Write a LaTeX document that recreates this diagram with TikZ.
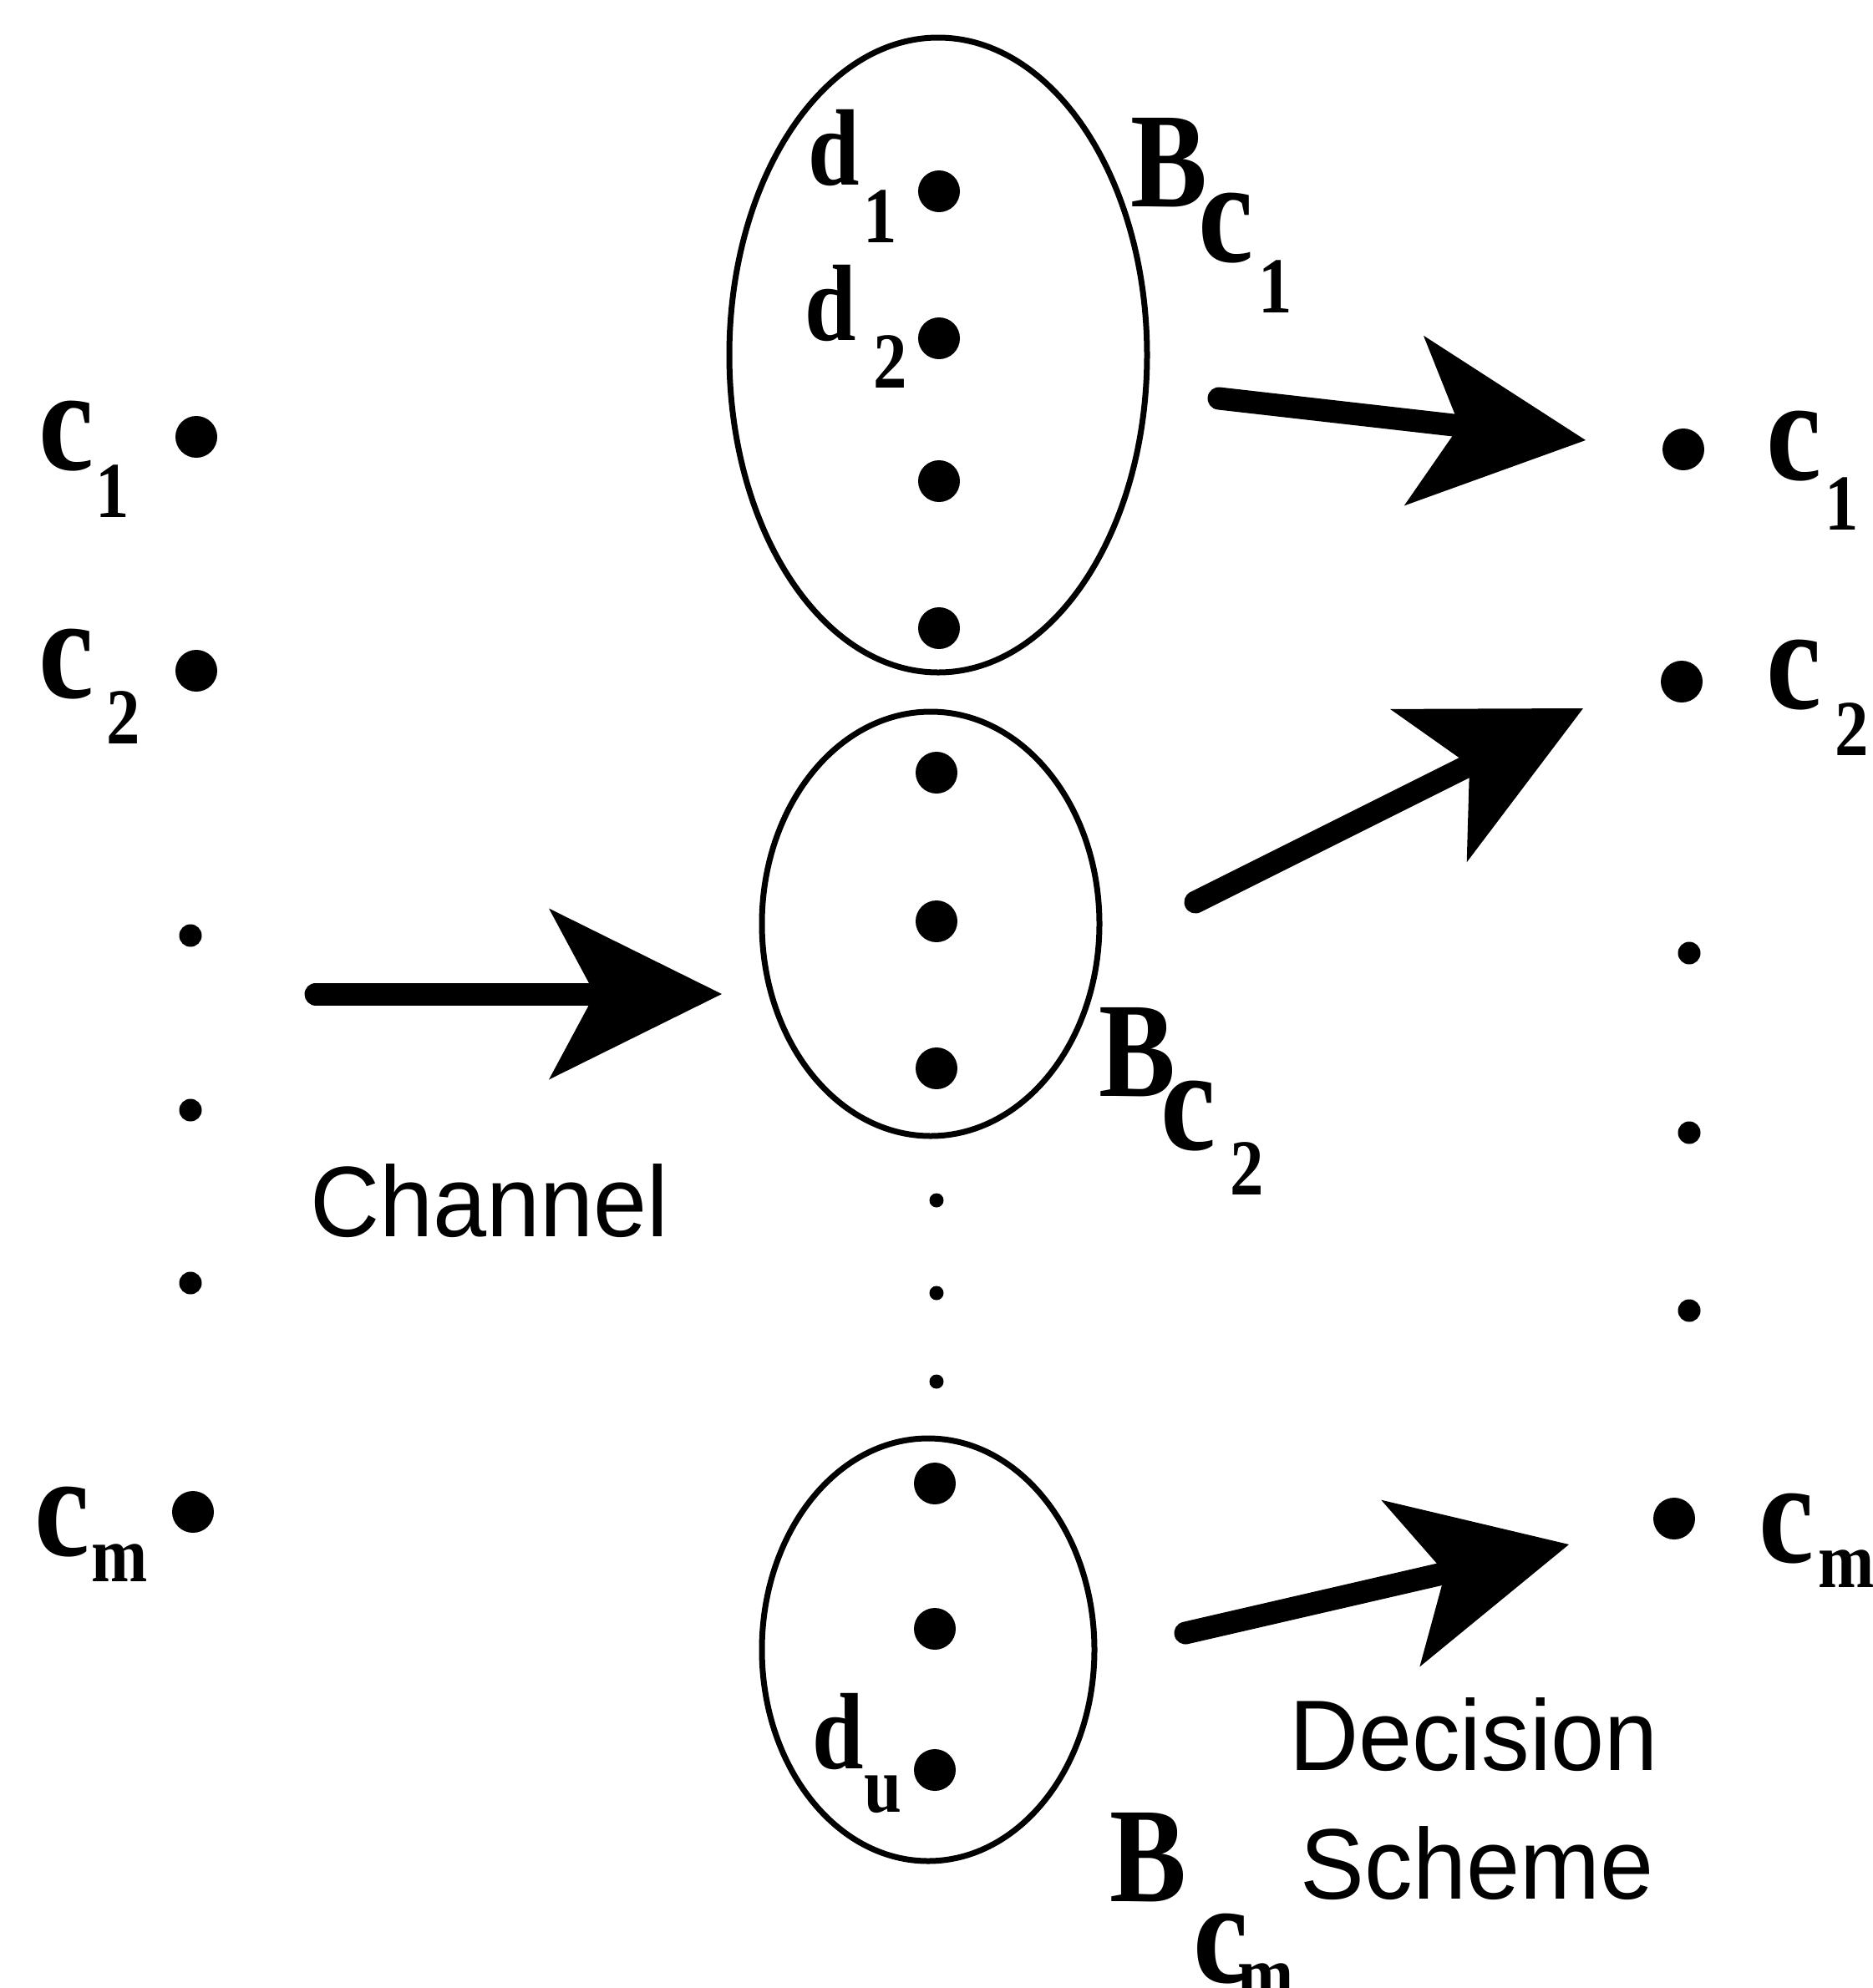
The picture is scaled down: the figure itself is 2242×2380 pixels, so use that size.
\documentclass[tikz,border=0pt]{standalone}
\usepackage{fontspec}
\setmainfont{Liberation Serif}
\newfontfamily\narrowserif[FakeStretch=0.85]{Liberation Serif}
\newfontfamily\narrowsans[FakeStretch=0.96]{Liberation Sans}
\usetikzlibrary{arrows.meta,shapes.geometric}
\begin{document}
\begin{tikzpicture}[x=1pt,y=-1pt,
  bigdot/.style={circle,fill=black,inner sep=0pt,minimum size=50pt},
  smalldot/.style={circle,fill=black,inner sep=0pt,minimum size=27pt},
  tinydot/.style={circle,fill=black,inner sep=0pt,minimum size=17pt},
  setshape/.style={draw=black,ellipse,line width=7pt,inner sep=0pt},
  biglet/.style={inner sep=0pt,anchor=base,font=\narrowserif\bfseries\fontsize{175}{175}\selectfont},
  dlet/.style={inner sep=0pt,anchor=base,font=\narrowserif\bfseries\fontsize{130}{130}\selectfont},
  Blet/.style={inner sep=0pt,anchor=base,font=\narrowserif\bfseries\fontsize{162}{162}\selectfont},
  sublet/.style={inner sep=0pt,anchor=base,font=\narrowserif\bfseries\fontsize{95}{95}\selectfont},
  caption/.style={inner sep=0pt,anchor=base,font=\narrowsans\fontsize{120}{120}\selectfont},
  bigarrow/.style={line width=27pt,line cap=round,
    -{Stealth[length=207pt,width=205pt,inset=55pt,line width=0pt]}}
]
\useasboundingbox (0,0) rectangle (2242,2380);

% left column
\node[bigdot] (l1) at (235,523) {};
\node[bigdot] (l2) at (235,803) {};
\node[smalldot] (ld1) at (228,1120) {};
\node[smalldot] (ld2) at (228,1329) {};
\node[smalldot] (ld3) at (228,1536) {};
\node[bigdot] (lm) at (231,1810) {};
\node[biglet] (lc1) at (80,562) {c};
\node[sublet] (lc1s) at (135,619) {1};
\node[biglet] (lc2) at (80,835) {c};
\node[sublet] (lc2s) at (148,890) {2};
\node[biglet] (lcm) at (75,1862) {c};
\node[sublet] (lcms) at (143,1893) {m};

% right column
\node[bigdot] (r1) at (2015,538) {};
\node[bigdot] (r2) at (2013,816) {};
\node[smalldot] (rd1) at (2022,1141) {};
\node[smalldot] (rd2) at (2022,1356) {};
\node[smalldot] (rd3) at (2022,1569) {};
\node[bigdot] (rm) at (2004,1818) {};
\node[biglet] (rc1) at (2147,574) {c};
\node[sublet] (rc1s) at (2205,634) {1};
\node[biglet] (rc2) at (2147,848) {c};
\node[sublet] (rc2s) at (2217,904) {2};
\node[biglet] (rcm) at (2138,1870) {c};
\node[sublet] (rcms) at (2210,1900) {m};

% decision sets
\node[setshape,minimum width=500pt,minimum height=760pt] (S1) at (1123,425) {};
\node[setshape,minimum width=404pt,minimum height=508pt] (S2) at (1114,1106) {};
\node[setshape,minimum width=398pt,minimum height=506pt] (S3) at (1111,1975) {};

\node[bigdot] (d1) at (1124,229) {};
\node[bigdot] (d2) at (1124,405) {};
\node[bigdot] (d3) at (1124,576) {};
\node[bigdot] (d4) at (1124,752) {};
\node[bigdot] (d5) at (1121,925) {};
\node[bigdot] (d6) at (1121,1103) {};
\node[bigdot] (d7) at (1121,1279) {};
\node[tinydot] (t1) at (1121,1437) {};
\node[tinydot] (t2) at (1121,1548) {};
\node[tinydot] (t3) at (1121,1654) {};
\node[bigdot] (d8) at (1119,1776) {};
\node[bigdot] (d9) at (1119,1950) {};
\node[bigdot] (du) at (1119,2119) {};

\node[dlet] (ld1l) at (998,221) {d};
\node[sublet] (ld1s) at (1054,290) {1};
\node[dlet] (ld2l) at (994,407) {d};
\node[sublet] (ld2s) at (1066,464) {2};
\node[dlet] (ldul) at (1003,2117) {d};
\node[sublet] (ldus) at (1057,2169) {u};

\node[Blet] (B1) at (1399,247) {B};
\node[biglet] (B1c) at (1467,313) {c};
\node[sublet] (B1s) at (1527,374) {1};
\node[Blet] (B2) at (1361,1312) {B};
\node[biglet] (B2c) at (1422,1376) {c};
\node[sublet] (B2s) at (1493,1430) {2};
\node[Blet] (B3) at (1374,2276) {B};
\node[biglet] (B3c) at (1461,2373) {c};
\node[sublet] (B3s) at (1515,2395) {m};

% arrows
\coordinate (ch0) at (378,1190);
\coordinate (ch1) at (864,1190);
\coordinate (a10) at (1459,477);
\coordinate (a11) at (1898,527);
\coordinate (a20) at (1431,1080);
\coordinate (a21) at (1895,848);
\coordinate (a30) at (1419,1955);
\coordinate (a31) at (1878,1849);
\draw[bigarrow] (ch0) -- (ch1);
\draw[bigarrow] (a10) -- (a11);
\draw[bigarrow] (a20) -- (a21);
\draw[bigarrow] (a30) -- (a31);

\node[caption] (chan) at (586,1480) {Channel};
\node[caption] (dec) at (1764,2119) {Decision};
\node[caption] (sch) at (1768,2273) {Scheme};
\end{tikzpicture}
\end{document}
